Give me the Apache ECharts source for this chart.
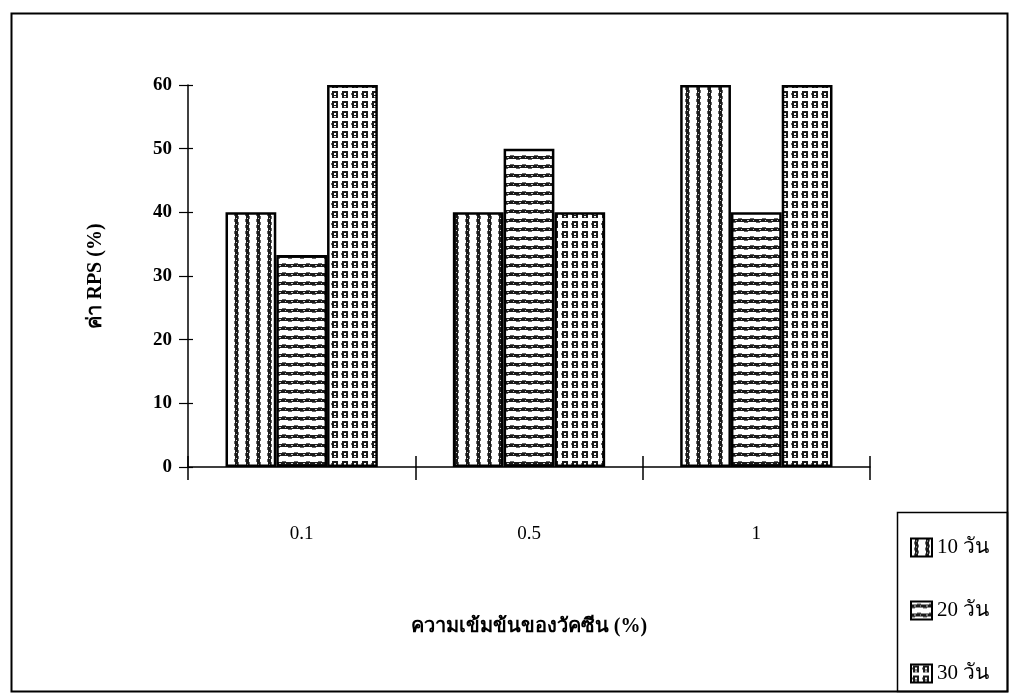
<!DOCTYPE html>
<html><head><meta charset="utf-8">
<script src="https://cdn.jsdelivr.net/npm/echarts@6/dist/echarts.min.js"></script>
<style>html,body{margin:0;padding:0;background:#fff}#c{width:1013px;height:698px}</style>
</head><body><div id="c"></div>
<script>
const categories = ['0.1', '0.5', '1'];
const seriesNames = ['10 วัน', '20 วัน', '30 วัน'];
const day10 = [40, 40, 60];
const day20 = [33.3, 50, 40];
const day30 = [60, 40, 60];
const yTicks = [0, 10, 20, 30, 40, 50, 60];

function pat(kind) {
  const c = document.createElement('canvas');
  const g = c.getContext('2d');
  if (kind === 'v') {
    c.width = 11; c.height = 6;
    g.fillStyle = '#fff'; g.fillRect(0, 0, 11, 6);
    g.fillStyle = '#1a1a1a'; g.fillRect(4, 0, 3, 6);
    g.fillStyle = '#666'; g.fillRect(7, 0, 1, 3); g.fillRect(3, 3, 1, 3);
    g.fillStyle = '#ccc'; g.fillRect(5, 2, 1, 1);
  } else if (kind === 'h') {
    c.width = 12; c.height = 9;
    g.fillStyle = '#fff'; g.fillRect(0, 0, 12, 9);
    g.fillStyle = '#1a1a1a'; g.fillRect(0, 3, 12, 3);
    g.fillStyle = '#666'; g.fillRect(0, 6, 4, 1); g.fillRect(6, 2, 4, 1);
    g.fillStyle = '#ccc'; g.fillRect(3, 4, 2, 1); g.fillRect(9, 4, 1, 1);
  } else {
    c.width = 10; c.height = 10;
    g.fillStyle = '#fff'; g.fillRect(0, 0, 10, 10);
    g.fillStyle = '#1a1a1a';
    g.fillRect(2, 1, 2, 7);
    g.fillRect(6, 1, 2, 7);
    g.fillRect(4, 1, 2, 2);
    g.fillRect(4, 5, 2, 1);
    g.fillStyle = '#666'; g.fillRect(4, 7, 2, 1); g.fillRect(1, 3, 1, 2);
  }
  return { image: c, repeat: 'repeat' };
}
const fills = [pat('v'), pat('h'), pat('g')];
const values = [day10, day20, day30];

const serif = '"Liberation Serif", "DejaVu Serif", serif';
const chart = echarts.init(document.getElementById('c'));
chart.setOption({
  animation: false,
  backgroundColor: '#fff',
  grid: { left: 188, right: 143, top: 85, bottom: 231 },
  xAxis: [{
    type: 'category', data: categories,
    axisLine: { show: true, lineStyle: { color: '#000', width: 1.5 } },
    axisTick: { show: true, length: 13, lineStyle: { color: '#000', width: 1.5 } },
    axisLabel: { color: '#000', fontFamily: serif, fontSize: 19, margin: 58 },
    name: 'ความเข้มข้นของวัคซีน (%)', nameLocation: 'middle', nameGap: 150,
    nameTextStyle: { color: '#000', fontFamily: serif, fontSize: 20, fontWeight: 'bold' }
  }, {
    type: 'category', data: categories, position: 'bottom',
    axisLine: { show: true, lineStyle: { color: '#000', width: 0, opacity: 0 } },
    axisTick: { show: true, inside: true, length: 11, lineStyle: { color: '#000', width: 1.5 } },
    axisLabel: { show: false }
  }],
  yAxis: [{
    type: 'value', min: 0, max: 60, interval: 10,
    splitLine: { show: false },
    axisLine: { show: true, lineStyle: { color: '#000', width: 1.5 } },
    axisTick: { show: true, length: 9, lineStyle: { color: '#000', width: 1.2 } },
    axisLabel: { color: '#000', fontFamily: serif, fontSize: 19, fontWeight: 'bold', margin: 16,
      formatter: v => yTicks.includes(v) ? String(v) : '' },
    name: 'ค่า RPS (%)', nameLocation: 'middle', nameGap: 82, nameRotate: 90,
    nameTextStyle: { color: '#000', fontFamily: serif, fontSize: 20, fontWeight: 'bold' }
  }, {
    type: 'value', min: 0, max: 60, interval: 10, position: 'left',
    splitLine: { show: false },
    axisLine: { show: true, lineStyle: { color: '#000', width: 0, opacity: 0 } },
    axisTick: { show: true, inside: true, length: 5, lineStyle: { color: '#000', width: 1.2 } },
    axisLabel: { show: false }
  }],
  legend: {
    orient: 'vertical', left: 905, top: 532, itemGap: 42,
    itemWidth: 21, itemHeight: 18, icon: 'rect',
    textStyle: { color: '#000', fontFamily: serif, fontSize: 21 },
    data: seriesNames
  },
  graphic: [
    { type: 'rect', left: 9, top: 11, shape: { width: 996, height: 678 }, style: { fill: 'none', stroke: '#000', lineWidth: 2 }, silent: true },
    { type: 'rect', left: 895, top: 510, shape: { width: 110, height: 179 }, style: { fill: 'none', stroke: '#000', lineWidth: 1.5 }, silent: true }
  ],
  series: seriesNames.map((n, i) => ({
    name: n, type: 'bar', data: values[i],
    barGap: '0%', barCategoryGap: '33%',
    itemStyle: { color: fills[i], borderColor: '#000', borderWidth: 2.5 }
  }))
});
</script></body></html>
